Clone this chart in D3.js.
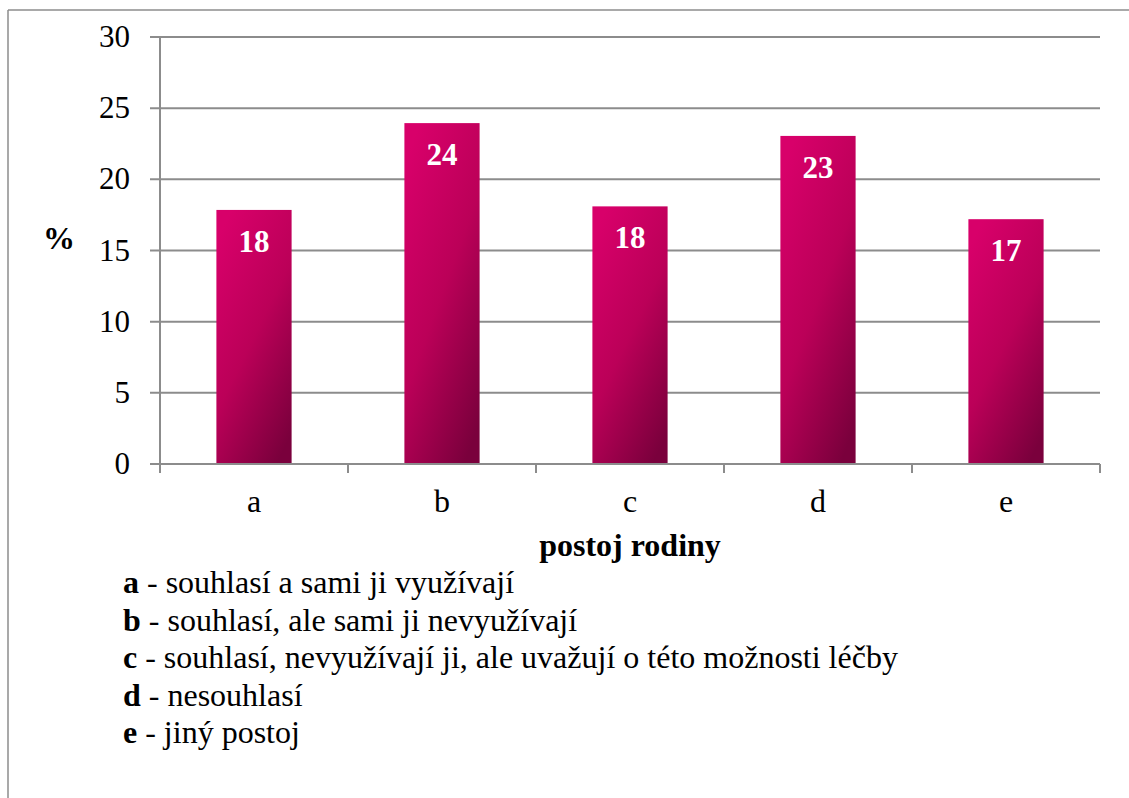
<!DOCTYPE html>
<html><head><meta charset="utf-8">
<script src="https://cdn.jsdelivr.net/npm/d3@7"></script>
<style>
html,body{margin:0;padding:0;background:#fff;}
svg{display:block;}
</style></head>
<body>
<svg id="chart" width="1129" height="798"></svg>
<script>
const categories = ["a","b","c","d","e"];
const values = [17.85, 23.95, 18.1, 23.05, 17.2];
const valueLabels = ["18","24","18","23","17"];
const yTicks = [0,5,10,15,20,25,30];
const legendKeys = ["a","b","c","d","e"];
const legendTexts = [
  " - souhlasí a sami ji využívají",
  " - souhlasí, ale sami ji nevyužívají",
  " - souhlasí, nevyužívají ji, ale uvažují o této možnosti léčby",
  " - nesouhlasí",
  " - jiný postoj"
];
const xTitle = "postoj rodiny";
const yTitle = "%";

(function(){
const svg = d3.select("#chart");
const grey = "#8c8c8c";
const FF = "'Liberation Serif'";

svg.append("line").attr("x1",8).attr("x2",1129).attr("y1",10).attr("y2",10).attr("stroke",grey).attr("stroke-width",1.5);
svg.append("line").attr("x1",8).attr("x2",8).attr("y1",10).attr("y2",798).attr("stroke",grey).attr("stroke-width",1.5);

const pL = 160, pR = 1100, pT = 37, pB = 464;
const x = d3.scaleBand().domain(categories).range([pL,pR]).paddingInner(0.6).paddingOuter(0.3);
const xOuter = d3.scaleBand().domain(categories).range([pL,pR]);
const y = d3.scaleLinear().domain([0,30]).range([pB,pT]);

const defs = svg.append("defs");
const grad = defs.append("linearGradient").attr("id","barGrad")
  .attr("x1","0.2").attr("y1","0").attr("x2","0.8").attr("y2","1");
grad.append("stop").attr("offset","0").attr("stop-color","#d8006a");
grad.append("stop").attr("offset","0.5").attr("stop-color","#bb0058");
grad.append("stop").attr("offset","1").attr("stop-color","#7a003c");

svg.append("g").selectAll("line").data(yTicks).join("line")
  .attr("x1",pL-10).attr("x2",pR)
  .attr("y1",d=>y(d)).attr("y2",d=>y(d))
  .attr("stroke",grey).attr("stroke-width",2);

svg.append("line").attr("x1",pL).attr("x2",pL).attr("y1",pT).attr("y2",pB)
  .attr("stroke",grey).attr("stroke-width",2);

svg.append("g").selectAll("text").data(yTicks).join("text")
  .style("font-family",FF)
  .attr("x",130).attr("y",d=>y(d)+10)
  .attr("text-anchor","end").attr("font-size",31).attr("fill","#000")
  .text(d=>d);

svg.append("g").selectAll("rect").data(values).join("rect")
  .attr("x",(d,i)=>x(categories[i]))
  .attr("width",x.bandwidth())
  .attr("y",d=>y(d))
  .attr("height",d=>y(0)-y(d))
  .attr("fill","url(#barGrad)");

svg.append("line").attr("x1",pL-10).attr("x2",pR).attr("y1",pB).attr("y2",pB)
  .attr("stroke",grey).attr("stroke-width",2);
const bounds = categories.map(c=>xOuter(c)).concat([pR]);
svg.append("g").selectAll("line").data(bounds).join("line")
  .attr("x1",d=>d).attr("x2",d=>d).attr("y1",pB).attr("y2",pB+9)
  .attr("stroke",grey).attr("stroke-width",2);

svg.append("g").selectAll("text").data(values).join("text")
  .style("font-family",FF)
  .attr("x",(d,i)=>x(categories[i])+x.bandwidth()/2)
  .attr("y",d=>y(d)+42)
  .attr("text-anchor","middle").attr("font-size",31).attr("font-weight","bold").attr("fill","#fff")
  .text((d,i)=>valueLabels[i]);

svg.append("g").selectAll("text").data(categories).join("text")
  .style("font-family",FF)
  .attr("x",d=>x(d)+x.bandwidth()/2).attr("y",512)
  .attr("text-anchor","middle").attr("font-size",32).attr("fill","#000")
  .text(d=>d);

svg.append("text").style("font-family",FF).attr("x",(pL+pR)/2).attr("y",556)
  .attr("text-anchor","middle").attr("font-size",32).attr("font-weight","bold").text(xTitle);
svg.append("text").style("font-family",FF).attr("x",59).attr("y",249)
  .attr("text-anchor","middle").attr("font-size",32).attr("font-weight","bold").text(yTitle);

const lg = svg.append("g");
legendKeys.forEach((k,i)=>{
  const t = lg.append("text").style("font-family",FF).attr("x",123).attr("y",593+i*37.5).attr("font-size",32).attr("fill","#000");
  t.append("tspan").attr("font-weight","bold").text(k);
  t.append("tspan").text(legendTexts[i]);
});
})();
</script>
</body></html>
